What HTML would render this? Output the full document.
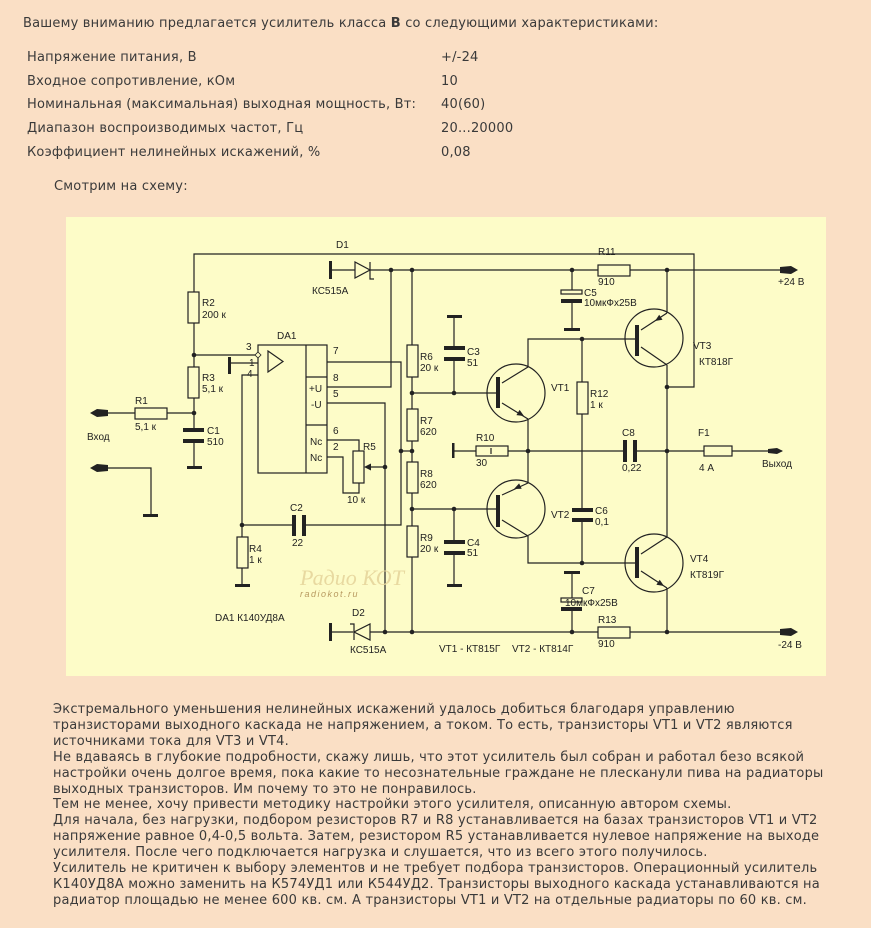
<!DOCTYPE html>
<html><head><meta charset="utf-8"><style>
body{margin:0;width:871px;height:928px;background:#fadfc5;position:relative;overflow:hidden;font-family:"DejaVu Sans","Liberation Sans",sans-serif;font-size:13px;color:#3a3a3a;letter-spacing:0.2px}
.t{position:absolute;white-space:nowrap}
svg{position:absolute;left:0;top:0}
svg text{font-family:"Liberation Sans",sans-serif;font-size:10px;fill:#222;letter-spacing:0}
</style></head><body>
<div class="t" style="left:23px;top:16px">Вашему вниманию предлагается усилитель класса <b>В</b> со следующими характеристиками:</div>
<div class="t" style="left:27px;top:50px">Напряжение питания, В</div><div class="t" style="left:441px;top:50px">+/-24</div>
<div class="t" style="left:27px;top:74px">Входное сопротивление, кОм</div><div class="t" style="left:441px;top:74px">10</div>
<div class="t" style="left:27px;top:97px">Номинальная (максимальная) выходная мощность, Вт:</div><div class="t" style="left:441px;top:97px">40(60)</div>
<div class="t" style="left:27px;top:121px">Диапазон воспроизводимых частот, Гц</div><div class="t" style="left:441px;top:121px">20...20000</div>
<div class="t" style="left:27px;top:145px">Коэффициент нелинейных искажений, %</div><div class="t" style="left:441px;top:145px">0,08</div>
<div class="t" style="left:54px;top:179px">Смотрим на схему:</div>
<div style="position:absolute;left:66px;top:217px;width:760px;height:459px;background:#fdfcc8"></div>
<svg width="871" height="928" viewBox="0 0 871 928">
<g stroke="#222" stroke-width="1.2" fill="none">
<!-- top feedback wire -->
<polyline points="194,323 194,254 694,254 694,387 667,387"/>
<!-- +24 rail -->
<line x1="331" y1="270" x2="355" y2="270"/><line x1="370" y1="270" x2="598" y2="270"/><line x1="630" y1="270" x2="782" y2="270"/>
<!-- -24 rail -->
<line x1="331" y1="632" x2="353" y2="632"/><line x1="370" y1="632" x2="598" y2="632"/><line x1="630" y1="632" x2="782" y2="632"/>
<!-- R2 R3 chain -->
<line x1="194" y1="323" x2="194" y2="367"/><line x1="194" y1="398" x2="194" y2="430"/><line x1="194" y1="440" x2="194" y2="468"/>
<line x1="194" y1="355" x2="258" y2="355"/>
<line x1="108" y1="413" x2="135" y2="413"/><line x1="167" y1="413" x2="194" y2="413"/>
<polyline points="108,468 151,468 151,515"/>
<!-- DA1 -->
<rect x="258" y="345" width="69" height="128"/>
<line x1="306" y1="345" x2="306" y2="473"/><line x1="306" y1="377" x2="327" y2="377"/><line x1="306" y1="425" x2="327" y2="425"/>
<polygon points="268,351 283,361.5 268,372"/>
<line x1="230" y1="363" x2="258" y2="363"/>
<polyline points="258,375 242,375 242,537"/>
<line x1="242" y1="568" x2="242" y2="585"/>
<polyline points="327,362 401,362 401,525 304,525"/><line x1="294" y1="525" x2="242" y2="525"/>
<polyline points="327,387 391,387 391,270"/>
<polyline points="327,403 385,403 385,632"/>
<polyline points="327,440 359,440 359,451"/>
<polyline points="327,457 343,457 343,493 359,493 359,483"/>
<line x1="385" y1="467" x2="368" y2="467"/>
<line x1="401" y1="451" x2="412" y2="451"/>
<!-- divider -->
<line x1="412" y1="270" x2="412" y2="345"/><line x1="412" y1="377" x2="412" y2="409"/><line x1="412" y1="441" x2="412" y2="462"/><line x1="412" y1="493" x2="412" y2="526"/><line x1="412" y1="557" x2="412" y2="632"/>
<line x1="412" y1="393" x2="498" y2="393"/><line x1="412" y1="509" x2="498" y2="509"/>
<line x1="454" y1="316" x2="454" y2="348"/><line x1="454" y1="360" x2="454" y2="393"/>
<line x1="454" y1="509" x2="454" y2="542"/><line x1="454" y1="552" x2="454" y2="585"/>
<!-- transistors -->
<circle cx="516" cy="393" r="29"/><circle cx="516" cy="509" r="29"/><circle cx="654" cy="338" r="29"/><circle cx="654" cy="563" r="29"/>
<line x1="502" y1="383" x2="528" y2="367"/><line x1="502" y1="403" x2="528" y2="419"/>
<polyline points="528,367 528,339 637,339"/>
<line x1="528" y1="419" x2="528" y2="483"/>
<line x1="502" y1="495" x2="528" y2="483"/><line x1="502" y1="520" x2="528" y2="536"/>
<polyline points="528,536 528,563 637,563"/>
<line x1="641" y1="330" x2="667" y2="313"/><line x1="641" y1="347" x2="667" y2="365"/>
<line x1="667" y1="270" x2="667" y2="313"/><line x1="667" y1="365" x2="667" y2="537"/>
<line x1="641" y1="554" x2="667" y2="537"/><line x1="641" y1="571" x2="667" y2="588"/><line x1="667" y1="588" x2="667" y2="632"/>
<!-- R12 C6 -->
<line x1="582" y1="339" x2="582" y2="382"/><line x1="582" y1="414" x2="582" y2="510"/><line x1="582" y1="518" x2="582" y2="563"/>
<!-- C5 C7 -->
<line x1="572" y1="270" x2="572" y2="290"/><line x1="572" y1="303" x2="572" y2="329"/>
<line x1="572" y1="572" x2="572" y2="598"/><line x1="572" y1="611" x2="572" y2="632"/>
<!-- mid line -->
<line x1="453" y1="451" x2="476" y2="451"/><line x1="508" y1="451" x2="624" y2="451"/><line x1="636" y1="451" x2="704" y2="451"/><line x1="732" y1="451" x2="782" y2="451"/>
<!-- resistors -->
<rect x="188" y="292" width="11" height="31" fill="#fdfcc8"/><rect x="188" y="367" width="11" height="31" fill="#fdfcc8"/>
<rect x="135" y="408" width="32" height="11" fill="#fdfcc8"/><rect x="237" y="537" width="11" height="31" fill="#fdfcc8"/>
<rect x="353" y="451" width="11" height="32" fill="#fdfcc8"/>
<rect x="407" y="345" width="11" height="32" fill="#fdfcc8"/><rect x="407" y="409" width="11" height="32" fill="#fdfcc8"/><rect x="407" y="462" width="11" height="31" fill="#fdfcc8"/><rect x="407" y="526" width="11" height="31" fill="#fdfcc8"/>
<rect x="598" y="265" width="32" height="11" fill="#fdfcc8"/><rect x="598" y="627" width="32" height="11" fill="#fdfcc8"/>
<rect x="577" y="382" width="11" height="32" fill="#fdfcc8"/><rect x="476" y="446" width="32" height="10" fill="#fdfcc8"/><rect x="704" y="446" width="28" height="10" fill="#fdfcc8"/>
<line x1="491" y1="448" x2="491" y2="454"/>
<rect x="561" y="290" width="21" height="4" fill="#fdfcc8"/><rect x="561" y="598" width="21" height="4" fill="#fdfcc8"/>
<!-- diodes -->
<polygon points="355,262 355,278 370,270"/><polyline points="370,262 370,279 374,279"/>
<polygon points="370,624 370,640 354,632"/><polyline points="354,640 354,624 350,624"/>
</g>
<g fill="#222">
<!-- thick bars -->
<rect x="329" y="261" width="3" height="18"/><rect x="329" y="623" width="3" height="18"/><rect x="228" y="357" width="3" height="17"/>
<rect x="187" y="466" width="15" height="3"/><rect x="143" y="514" width="15" height="3"/><rect x="235" y="584" width="15" height="3"/>
<rect x="447" y="315" width="15" height="3"/><rect x="447" y="584" width="15" height="3"/><rect x="564" y="328" width="16" height="3"/><rect x="564" y="571" width="16" height="3"/>
<rect x="452" y="443" width="2.5" height="15"/>
<rect x="183" y="428" width="21" height="4"/><rect x="183" y="439" width="21" height="4"/>
<rect x="444" y="346" width="21" height="4"/><rect x="444" y="357" width="21" height="4"/>
<rect x="444" y="540" width="21" height="4"/><rect x="444" y="551" width="21" height="4"/>
<rect x="572" y="508" width="21" height="4"/><rect x="572" y="518" width="21" height="4"/>
<rect x="561" y="299" width="21" height="4"/><rect x="561" y="607" width="21" height="4"/>
<rect x="292" y="515" width="4" height="21"/><rect x="302" y="515" width="4" height="21"/>
<rect x="623" y="440" width="4" height="22"/><rect x="633" y="440" width="4" height="22"/>
<rect x="496" y="377" width="4" height="31"/><rect x="496" y="495" width="4" height="32"/><rect x="635" y="325" width="4" height="31"/><rect x="635" y="547" width="4" height="31"/>
<!-- dots -->
<circle cx="194" cy="355" r="2.3"/><circle cx="194" cy="413" r="2.3"/><circle cx="242" cy="525" r="2.3"/>
<circle cx="391" cy="270" r="2.3"/><circle cx="412" cy="270" r="2.3"/><circle cx="572" cy="270" r="2.3"/><circle cx="667" cy="270" r="2.3"/>
<circle cx="385" cy="632" r="2.3"/><circle cx="412" cy="632" r="2.3"/><circle cx="572" cy="632" r="2.3"/><circle cx="667" cy="632" r="2.3"/>
<circle cx="412" cy="393" r="2.3"/><circle cx="454" cy="393" r="2.3"/><circle cx="401" cy="451" r="2.3"/><circle cx="412" cy="451" r="2.3"/><circle cx="412" cy="509" r="2.3"/><circle cx="454" cy="509" r="2.3"/>
<circle cx="385" cy="467" r="2.3"/><circle cx="582" cy="339" r="2.3"/><circle cx="582" cy="563" r="2.3"/><circle cx="528" cy="451" r="2.3"/><circle cx="667" cy="451" r="2.3"/><circle cx="667" cy="387" r="2.3"/>
<!-- arrowheads -->
<polygon points="524,416 516.4,415.1 519.6,409.9"/><polygon points="514,489 521.7,488.8 519.1,483.4"/>
<polygon points="655,321 662.5,319.7 659.2,314.7"/><polygon points="664,586 656.4,584.7 659.7,579.7"/>
<polygon points="364,467 371,463.5 371,470.5"/>
<!-- terminals -->
<polygon points="90,413 97,409 108,410 108,416 97,417"/><polygon points="90,468 97,464 108,465 108,471 97,472"/>
<polygon points="798,270 791,266 780,267 780,273 791,274"/><polygon points="798,632 791,628 780,629 780,635 791,636"/><polygon points="783,451 777,448 768,449 768,453 777,454"/>
</g>
<path d="M258,352 l3,3 -3,3 -3,-3z" fill="#fdfcc8" stroke="#222" stroke-width="0.8"/>
<g>
<text x="336" y="248">D1</text><text x="312" y="294">КС515А</text>
<text x="202" y="306">R2</text><text x="202" y="318">200 к</text>
<text x="202" y="381">R3</text><text x="202" y="392">5,1 к</text>
<text x="135" y="404">R1</text><text x="135" y="430">5,1 к</text>
<text x="87" y="440">Вход</text>
<text x="207" y="434">C1</text><text x="207" y="445">510</text>
<text x="277" y="339">DA1</text>
<text x="246" y="350">3</text><text x="249" y="366">1</text><text x="247" y="377">4</text>
<text x="333" y="354">7</text><text x="333" y="381">8</text><text x="333" y="397">5</text><text x="333" y="434">6</text><text x="333" y="450">2</text>
<text x="309" y="392">+U</text><text x="311" y="408">-U</text><text x="310" y="445">Nc</text><text x="310" y="461">Nc</text>
<text x="363" y="450">R5</text><text x="347" y="503">10 к</text>
<text x="290" y="511">C2</text><text x="292" y="546">22</text>
<text x="249" y="552">R4</text><text x="249" y="563">1 к</text>
<text x="215" y="621">DA1  К140УД8А</text>
<text x="352" y="616">D2</text><text x="350" y="653">КС515А</text>
<text x="420" y="360">R6</text><text x="420" y="371">20 к</text>
<text x="420" y="424">R7</text><text x="420" y="435">620</text>
<text x="420" y="477">R8</text><text x="420" y="488">620</text>
<text x="420" y="541">R9</text><text x="420" y="552">20 к</text>
<text x="467" y="355">C3</text><text x="467" y="366">51</text>
<text x="467" y="546">C4</text><text x="467" y="556">51</text>
<text x="551" y="391">VT1</text><text x="551" y="518">VT2</text>
<text x="476" y="441">R10</text><text x="476" y="466">30</text>
<text x="590" y="397">R12</text><text x="590" y="408">1 к</text>
<text x="595" y="514">C6</text><text x="595" y="525">0,1</text>
<text x="598" y="255">R11</text><text x="598" y="285">910</text>
<text x="598" y="623">R13</text><text x="598" y="647">910</text>
<text x="584" y="296">C5</text><text x="584" y="306">10мкФх25В</text>
<text x="582" y="594">C7</text><text x="565" y="606">10мкФх25В</text>
<text x="622" y="436">C8</text><text x="622" y="471">0,22</text>
<text x="698" y="436">F1</text><text x="699" y="471">4 А</text>
<text x="762" y="467">Выход</text>
<text x="778" y="285">+24 В</text><text x="778" y="648">-24 В</text>
<text x="693" y="349">VT3</text><text x="699" y="365">КТ818Г</text>
<text x="690" y="562">VT4</text><text x="690" y="578">КТ819Г</text>
<text x="439" y="652">VT1 - КТ815Г</text><text x="512" y="652">VT2 - КТ814Г</text>
<text x="300" y="585" style="font-size:22px;fill:#e8d9a0;font-style:italic;font-family:'Liberation Serif',serif">Радио КОТ</text>
<text x="300" y="597" style="font-size:9px;fill:#b89a60;font-style:italic;letter-spacing:1.5px">radiokot.ru</text>
</g>
</svg>
<div class="t" style="left:53px;top:702px;line-height:15.9px">Экстремального уменьшения нелинейных искажений удалось добиться благодаря управлению<br>транзисторами выходного каскада не напряжением, а током. То есть, транзисторы VT1 и VT2 являются<br>источниками тока для VT3 и VT4.<br>Не вдаваясь в глубокие подробности, скажу лишь, что этот усилитель был собран и работал безо всякой<br>настройки очень долгое время, пока какие то несознательные граждане не плесканули пива на радиаторы<br>выходных транзисторов. Им почему то это не понравилось.<br>Тем не менее, хочу привести методику настройки этого усилителя, описанную автором схемы.<br>Для начала, без нагрузки, подбором резисторов R7 и R8 устанавливается на базах транзисторов VT1 и VT2<br>напряжение равное 0,4-0,5 вольта. Затем, резистором R5 устанавливается нулевое напряжение на выходе<br>усилителя. После чего подключается нагрузка и слушается, что из всего этого получилось.<br>Усилитель не критичен к выбору элементов и не требует подбора транзисторов. Операционный усилитель<br>К140УД8А можно заменить на К574УД1 или К544УД2. Транзисторы выходного каскада устанавливаются на<br>радиатор площадью не менее 600 кв. см. А транзисторы VT1 и VT2 на отдельные радиаторы по 60 кв. см.</div>
</body></html>
